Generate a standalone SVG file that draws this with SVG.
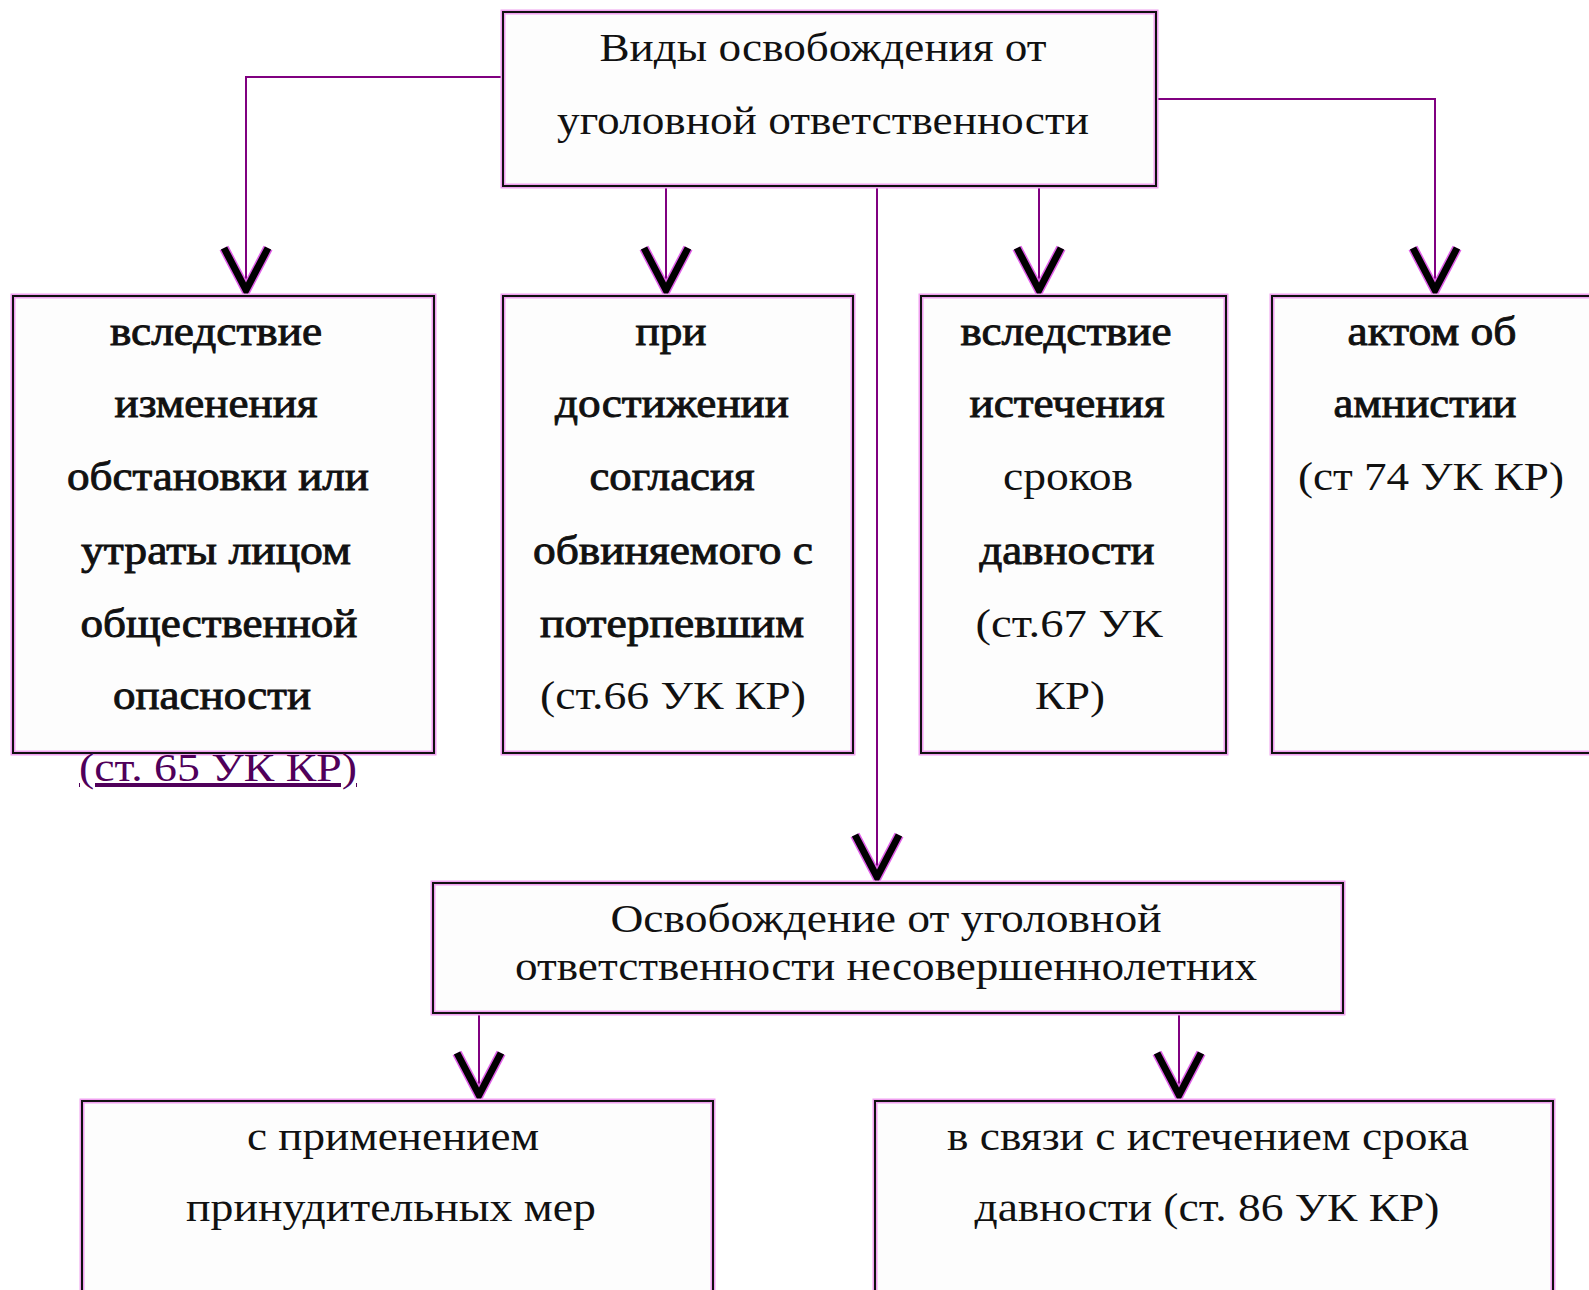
<svg xmlns="http://www.w3.org/2000/svg" width="1589" height="1290" viewBox="0 0 1589 1290">
<style>
.halo{fill:#fdfdfd;stroke:#f0a0f0;stroke-width:5}
.box{fill:none;stroke:#111;stroke-width:2}
.t{font-family:"Liberation Serif","Times New Roman",serif;font-size:40px;fill:#111;text-anchor:middle}
.b{stroke:#111;stroke-width:0.9}
.c{fill:none;stroke:#800080;stroke-width:2;marker-end:url(#v)}
.link{fill:#50005a;text-decoration:underline}
</style>
<defs>
<marker id="v" markerUnits="userSpaceOnUse" viewBox="-60 -30 70 60" markerWidth="70" markerHeight="60" refX="0" refY="0" orient="auto">
<path d="M-48,-22 L-6,0 L-48,22" fill="none" stroke="#e060e8" stroke-width="10" stroke-linejoin="miter"/>
<path d="M-48,-22 L-6,0 L-48,22" fill="none" stroke="#000" stroke-width="7" stroke-linejoin="miter"/>
</marker>
</defs>
<rect width="1589" height="1290" fill="#fff"/>

<g id="connectors">
<path class="c" d="M503,77 H246 V296"/>
<path class="c" d="M666,186 V296"/>
<path class="c" d="M1039,186 V296"/>
<path class="c" d="M1156,99 H1435 V296"/>
<path class="c" d="M877,186 V883"/>
<path class="c" d="M479,1013 V1101"/>
<path class="c" d="M1179,1013 V1101"/>
</g>

<g id="root">
<rect class="halo" x="503" y="12" width="653" height="174"/>
<rect class="box" x="503" y="12" width="653" height="174"/>
<text class="t" x="823" y="61" textLength="447" lengthAdjust="spacingAndGlyphs">Виды освобождения от</text>
<text class="t" x="823" y="134" textLength="532" lengthAdjust="spacingAndGlyphs">уголовной ответственности</text>
</g>

<g id="n1">
<rect class="halo" x="13" y="296" width="421" height="457"/>
<rect class="box" x="13" y="296" width="421" height="457"/>
<text class="t b" x="216" y="345" textLength="212" lengthAdjust="spacingAndGlyphs">вследствие</text>
<text class="t b" x="216" y="417" textLength="203" lengthAdjust="spacingAndGlyphs">изменения</text>
<text class="t b" x="218" y="490" textLength="302" lengthAdjust="spacingAndGlyphs">обстановки или</text>
<text class="t b" x="216" y="564" textLength="270" lengthAdjust="spacingAndGlyphs">утраты лицом</text>
<text class="t b" x="219" y="637" textLength="277" lengthAdjust="spacingAndGlyphs">общественной</text>
<text class="t b" x="212" y="709" textLength="198" lengthAdjust="spacingAndGlyphs">опасности</text>
<text class="t link" x="218" y="781" textLength="278" lengthAdjust="spacingAndGlyphs">(ст. 65 УК КР)</text>
</g>

<g id="n2">
<rect class="halo" x="503" y="296" width="350" height="457"/>
<rect class="box" x="503" y="296" width="350" height="457"/>
<text class="t b" x="671" y="345" textLength="71" lengthAdjust="spacingAndGlyphs">при</text>
<text class="t b" x="672" y="417" textLength="234" lengthAdjust="spacingAndGlyphs">достижении</text>
<text class="t b" x="672" y="490" textLength="165" lengthAdjust="spacingAndGlyphs">согласия</text>
<text class="t b" x="673" y="564" textLength="280" lengthAdjust="spacingAndGlyphs">обвиняемого с</text>
<text class="t b" x="672" y="637" textLength="264" lengthAdjust="spacingAndGlyphs">потерпевшим</text>
<text class="t" x="673" y="709" textLength="266" lengthAdjust="spacingAndGlyphs">(ст.66 УК КР)</text>
</g>

<g id="n3">
<rect class="halo" x="921" y="296" width="305" height="457"/>
<rect class="box" x="921" y="296" width="305" height="457"/>
<text class="t b" x="1066" y="345" textLength="211" lengthAdjust="spacingAndGlyphs">вследствие</text>
<text class="t b" x="1067" y="417" textLength="195" lengthAdjust="spacingAndGlyphs">истечения</text>
<text class="t" x="1068" y="490" textLength="130" lengthAdjust="spacingAndGlyphs">сроков</text>
<text class="t b" x="1067" y="564" textLength="175" lengthAdjust="spacingAndGlyphs">давности</text>
<text class="t" x="1069" y="637" textLength="187" lengthAdjust="spacingAndGlyphs">(ст.67  УК</text>
<text class="t" x="1070" y="709" textLength="70" lengthAdjust="spacingAndGlyphs">КР)</text>
</g>

<g id="n4">
<rect class="halo" x="1272" y="296" width="330" height="457"/>
<rect class="box" x="1272" y="296" width="330" height="457"/>
<text class="t b" x="1432" y="345" textLength="169" lengthAdjust="spacingAndGlyphs">актом об</text>
<text class="t b" x="1425" y="417" textLength="183" lengthAdjust="spacingAndGlyphs">амнистии</text>
<text class="t" x="1431" y="490" textLength="266" lengthAdjust="spacingAndGlyphs">(ст 74 УК КР)</text>
</g>

<g id="n5">
<rect class="halo" x="433" y="883" width="910" height="130"/>
<rect class="box" x="433" y="883" width="910" height="130"/>
<text class="t" x="886" y="932" textLength="551" lengthAdjust="spacingAndGlyphs">Освобождение от уголовной</text>
<text class="t" x="886" y="980" textLength="742" lengthAdjust="spacingAndGlyphs">ответственности несовершеннолетних</text>
</g>

<g id="n6">
<rect class="halo" x="82" y="1101" width="631" height="200"/>
<rect class="box" x="82" y="1101" width="631" height="200"/>
<text class="t" x="393" y="1150" textLength="292" lengthAdjust="spacingAndGlyphs">с применением</text>
<text class="t" x="391" y="1221" textLength="410" lengthAdjust="spacingAndGlyphs">принудительных мер</text>
</g>

<g id="n7">
<rect class="halo" x="875" y="1101" width="678" height="200"/>
<rect class="box" x="875" y="1101" width="678" height="200"/>
<text class="t" x="1208" y="1150" textLength="522" lengthAdjust="spacingAndGlyphs">в связи с истечением срока</text>
<text class="t" x="1207" y="1221" textLength="465" lengthAdjust="spacingAndGlyphs">давности (ст. 86 УК КР)</text>
</g>
</svg>
